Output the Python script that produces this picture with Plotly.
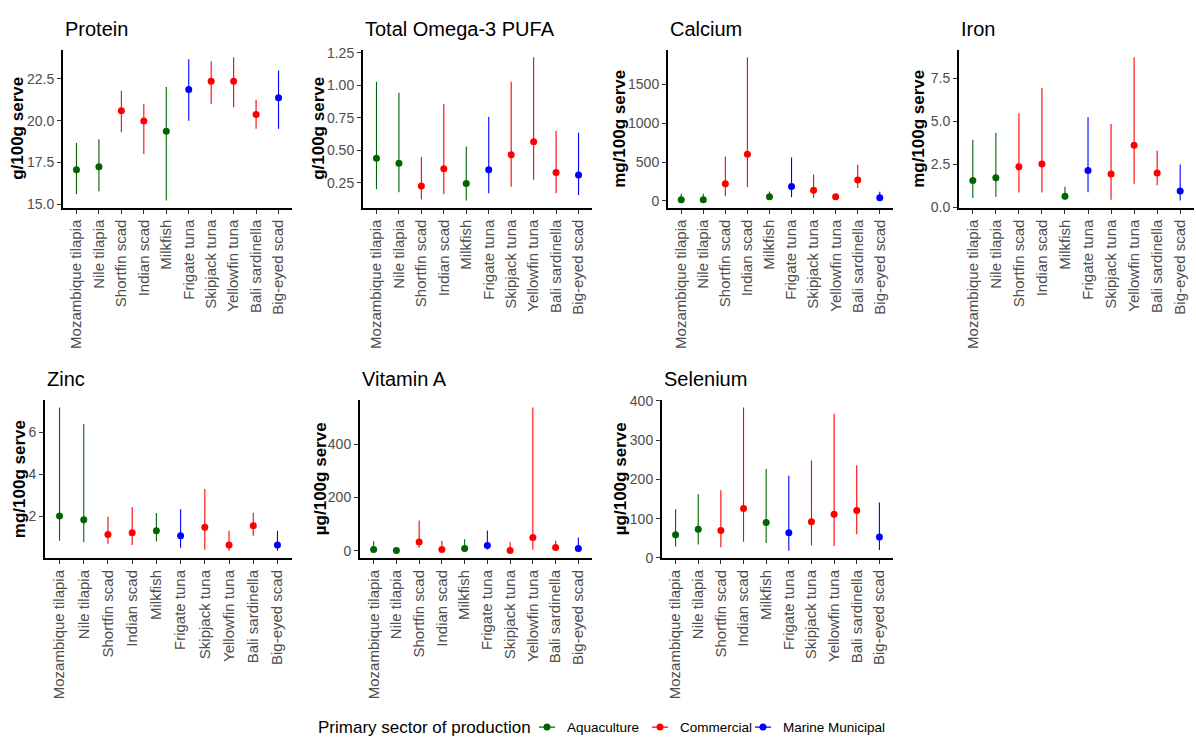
import plotly.graph_objects as go

# Species and their primary production sector
species = ["Mozambique tilapia", "Nile tilapia", "Shortfin scad", "Indian scad", "Milkfish",
           "Frigate tuna", "Skipjack tuna", "Yellowfin tuna", "Bali sardinella", "Big-eyed scad"]
sector = ["Aquaculture", "Aquaculture", "Commercial", "Commercial", "Aquaculture",
          "Marine Municipal", "Commercial", "Commercial", "Commercial", "Marine Municipal"]
sectors = ["Aquaculture", "Commercial", "Marine Municipal"]
sector_colors = {"Aquaculture": "#006400", "Commercial": "#FF0000", "Marine Municipal": "#0000FF"}

# Nutrient content per 100 g serve: central estimate, lower and upper bound
protein_mid = [17.07, 17.25, 20.59, 19.98, 19.36, 21.86, 22.36, 22.36, 20.37, 21.37]
protein_low = [15.60, 15.78, 19.30, 18.00, 15.23, 20.00, 21.00, 20.80, 19.51, 19.51]
protein_high = [18.67, 18.89, 21.78, 21.00, 22.01, 23.67, 23.55, 23.79, 21.25, 23.00]

omega3_mid = [0.439, 0.400, 0.225, 0.358, 0.245, 0.350, 0.467, 0.567, 0.330, 0.310]
omega3_low = [0.200, 0.177, 0.122, 0.162, 0.114, 0.170, 0.220, 0.273, 0.170, 0.157]
omega3_high = [1.028, 0.943, 0.449, 0.857, 0.530, 0.756, 1.028, 1.217, 0.650, 0.635]

calcium_mid = [16, 16, 220, 601, 55, 185, 139, 55, 269, 42]
calcium_low = [6, 6, 59, 181, 16, 48, 38, 18, 168, 8]
calcium_high = [92, 92, 573, 1852, 122, 561, 342, 88, 466, 118]

iron_mid = [1.56, 1.73, 2.36, 2.53, 0.65, 2.15, 1.94, 3.62, 2.00, 0.95]
iron_low = [0.55, 0.61, 0.86, 0.86, 0.46, 0.88, 0.44, 1.37, 1.28, 0.40]
iron_high = [3.94, 4.34, 5.48, 6.95, 1.20, 5.25, 4.85, 8.74, 3.31, 2.49]

zinc_mid = [2.02, 1.84, 1.14, 1.22, 1.31, 1.08, 1.48, 0.64, 1.55, 0.64]
zinc_low = [0.84, 0.77, 0.69, 0.64, 0.80, 0.50, 0.41, 0.36, 1.08, 0.36]
zinc_high = [7.17, 6.39, 1.98, 2.44, 2.16, 2.34, 3.30, 1.31, 2.17, 1.31]

vita_mid = [5, 1, 33, 5, 9, 20, 1, 50, 12, 9]
vita_low = [0, 0, 11, 0, 2, 5, 0, 4, 4, 1]
vita_high = [36, 8, 114, 38, 43, 76, 32, 538, 38, 50]

selenium_mid = [59, 73, 70, 126, 90, 64, 92, 111, 121, 53]
selenium_low = [29, 34, 27, 41, 38, 18, 32, 30, 60, 20]
selenium_high = [124, 162, 172, 383, 227, 209, 248, 367, 236, 141]

W, H = 1196, 747
FONT = "Liberation Sans, Arial, sans-serif"

# title, unit, data, tick settings, panel box in pixels (left, right, top, bottom), y-title x
panels = [
    ("Protein", "g/100g serve", protein_mid, protein_low, protein_high, 15, 2.5, ".1f", (63, 292, 43, 204), 18),
    ("Total Omega-3 PUFA", "g/100g serve", omega3_mid, omega3_low, omega3_high, 0.25, 0.25, ".2f", (363, 592, 43, 204), 319),
    ("Calcium", "mg/100g serve", calcium_mid, calcium_low, calcium_high, 0, 500, "d", (668, 893, 43, 204), 620),
    ("Iron", "mg/100g serve", iron_mid, iron_low, iron_high, 0, 2.5, ".1f", (959, 1194, 43, 204), 919),
    ("Zinc", "mg/100g serve", zinc_mid, zinc_low, zinc_high, 0, 2, "d", (45, 292, 401, 562), 19),
    ("Vitamin A", "µg/100g serve", vita_mid, vita_low, vita_high, 0, 200, "d", (360, 592, 401, 562), 320),
    ("Selenium", "µg/100g serve", selenium_mid, selenium_low, selenium_high, 0, 100, "d", (662, 893, 401, 562), 620),
]

fig = go.Figure()
layout = {}
annotations = []

for i, (title, unit, mid, low, high, t0, dt, fmt, box, ytx) in enumerate(panels):
    n = "" if i == 0 else str(i + 1)
    xa, ya = "x" + n, "y" + n
    left, right, top, bottom = box

    for s in sectors:
        idx = [k for k in range(len(species)) if sector[k] == s]
        fig.add_trace(go.Scatter(
            x=[species[k] for k in idx],
            y=[mid[k] for k in idx],
            mode="markers",
            marker=dict(color=sector_colors[s], size=7),
            error_y=dict(type="data", symmetric=False,
                         array=[high[k] - mid[k] for k in idx],
                         arrayminus=[mid[k] - low[k] for k in idx],
                         color=sector_colors[s], thickness=1.1, width=0),
            xaxis=xa, yaxis=ya, showlegend=False, name=s,
        ))

    lo, hi = min(low), max(high)
    pad = 0.05 * (hi - lo)

    layout["xaxis" + n] = dict(
        domain=[left / W, right / W], anchor=ya,
        type="category", categoryorder="array", categoryarray=species,
        range=[-0.6, len(species) - 0.4],
        showline=True, linecolor="black", linewidth=2,
        ticks="outside", ticklen=4, tickcolor="#333333", tickwidth=1,
        tickangle=-90, tickfont=dict(family=FONT, size=15, color="#4D4D4D"),
        showgrid=False, zeroline=False, fixedrange=True,
    )
    layout["yaxis" + n] = dict(
        domain=[1 - bottom / H, 1 - top / H], anchor=xa,
        range=[lo - pad, hi + pad], tick0=t0, dtick=dt, tickformat=fmt,
        showline=True, linecolor="black", linewidth=2,
        ticks="outside", ticklen=4, tickcolor="#333333", tickwidth=1,
        tickfont=dict(family=FONT, size=14, color="#4D4D4D"),
        showgrid=False, zeroline=False, fixedrange=True,
    )

    # panel title
    annotations.append(dict(
        text=title, xref="paper", yref="paper",
        x=left / W, y=1 - (top - 22) / H, xanchor="left", yanchor="middle",
        showarrow=False, font=dict(family=FONT, size=20, color="black"),
    ))
    # y-axis title
    annotations.append(dict(
        text="<b>" + unit + "</b>", xref="paper", yref="paper",
        x=ytx / W, y=1 - ((top + bottom) / 2) / H, xanchor="center", yanchor="middle",
        textangle=-90, showarrow=False, font=dict(family=FONT, size=17, color="black"),
    ))

# legend title
annotations.append(dict(
    text="Primary sector of production", xref="paper", yref="paper",
    x=316 / W, y=1 - 735 / H, xanchor="left", yanchor="middle",
    showarrow=False, font=dict(family=FONT, size=17, color="black"),
))

# one legend box per sector so entries sit close together;
# the dash pattern keeps only a short stroke centred on the point
legend_x = {"Aquaculture": 527, "Commercial": 640, "Marine Municipal": 743}
legend_keys = {"Aquaculture": "legend", "Commercial": "legend2", "Marine Municipal": "legend3"}
legend_layout = {}
for s in sectors:
    fig.add_trace(go.Scatter(
        x=[None], y=[None], mode="lines+markers", name=s,
        line=dict(color=sector_colors[s], width=1.2, dash="0px,7px,16px,7px"),
        marker=dict(color=sector_colors[s], size=7),
        showlegend=True, legend=legend_keys[s],
    ))
    legend_layout[legend_keys[s]] = dict(
        orientation="h", x=legend_x[s] / W, y=1 - 735 / H, xanchor="left", yanchor="middle",
        font=dict(family=FONT, size=13.5, color="black"),
        itemwidth=30, bgcolor="rgba(0,0,0,0)",
    )

fig.update_layout(
    width=W, height=H,
    margin=dict(l=0, r=0, t=0, b=0),
    paper_bgcolor="white", plot_bgcolor="white",
    font=dict(family=FONT, color="black"),
    annotations=annotations,
    **legend_layout,
    **layout,
)

fig.write_html("out.html")
